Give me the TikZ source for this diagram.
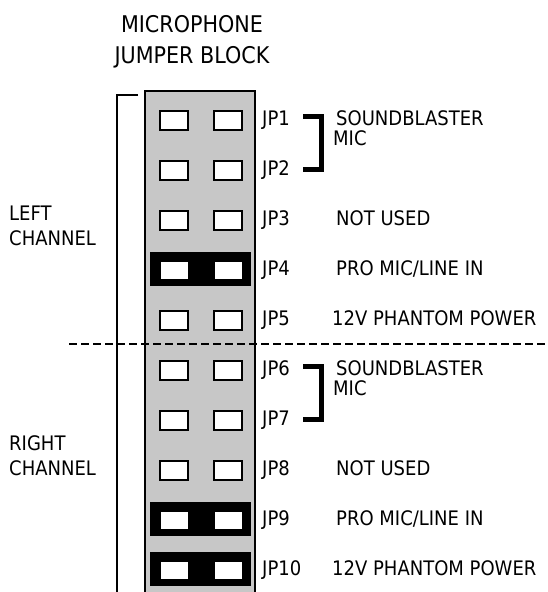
\documentclass[tikz,border=0pt]{standalone}
\usepackage{fontspec}
\setmainfont{DejaVu Sans}[FakeStretch=0.9]
\tikzset{
  lbl/.style={font=\fontsize{20}{22}\selectfont, anchor=base west, inner sep=0pt},
  ttl/.style={font=\fontsize{23}{26}\selectfont, anchor=base, inner sep=0pt},
  pinbox/.style={draw=black, line width=2pt, fill=white, minimum width=28pt, minimum height=19pt, inner sep=0pt},
  shunt/.style={fill=black, minimum width=101pt, minimum height=34pt, inner sep=0pt},
  hole/.style={fill=white, minimum width=27pt, minimum height=17pt, inner sep=0pt},
  bracketline/.style={line width=5pt},
  thinline/.style={line width=1.6pt},
  divider/.style={line width=1.3pt, dash pattern=on 8pt off 4pt}
}
\begin{document}
\begin{tikzpicture}[x=1pt,y=-1pt]
\useasboundingbox (0,0) rectangle (547,592);
% title
\node[ttl] (t1) at (192,32) {MICROPHONE};
\node[ttl] (t2) at (192,63) {JUMPER BLOCK};
% strip
\fill[black!22] (145,91) rectangle (255,600);
\draw[line width=1.5pt] (145,600) -- (145,91) -- (255,91) -- (255,600);
% left bracket line
\coordinate (lt) at (138,95);
\coordinate (lc) at (117,95);
\coordinate (lb) at (117,600);
\draw[thinline] (lt) -- (lc) -- (lb);
% jumpers
\foreach \n in {1,2,3,5,6,7,8}{
  \pgfmathsetmacro{\yy}{120+50*(\n-1)}
  \node[pinbox] (p\n a) at (174,\yy) {};
  \node[pinbox] (p\n b) at (228,\yy) {};
}
\foreach \n in {4,9,10}{
  \pgfmathsetmacro{\yy}{120+50*(\n-1)}
  \node[shunt] (s\n) at (200.5,\yy-1) {};
  \node[hole] (p\n a) at (174.5,\yy) {};
  \node[hole] (p\n b) at (228,\yy) {};
}
% divider
\coordinate (d1) at (69,344);
\coordinate (d2) at (547,344);
\draw[divider] (d1) -- (d2);
% JP labels
\foreach \n in {1,...,10}{
  \pgfmathsetmacro{\yy}{125+50*(\n-1)}
  \node[lbl] (jp\n) at (262,\yy) {JP\n};
}
% descriptions
\node[lbl] (sb1) at (336,125) {SOUNDBLASTER};
\node[lbl] (mic1) at (333,145) {MIC};
\node[lbl] (nu1) at (336,225) {NOT USED};
\node[lbl] (pro1) at (336,275) {PRO MIC/LINE IN};
\node[lbl] (ph1) at (332,325) {12V PHANTOM POWER};
\node[lbl] (sb2) at (336,375) {SOUNDBLASTER};
\node[lbl] (mic2) at (333,395) {MIC};
\node[lbl] (nu2) at (336,475) {NOT USED};
\node[lbl] (pro2) at (336,525) {PRO MIC/LINE IN};
\node[lbl] (ph2) at (332,575) {12V PHANTOM POWER};
% brackets
\coordinate (b1a) at (303,116);
\coordinate (b1b) at (321.5,116);
\coordinate (b1c) at (321.5,169);
\coordinate (b1d) at (303,169);
\draw[bracketline] (b1a) -- (b1b) -- (b1c) -- (b1d);
\coordinate (b2a) at (303,366);
\coordinate (b2b) at (321.5,366);
\coordinate (b2c) at (321.5,419);
\coordinate (b2d) at (303,419);
\draw[bracketline] (b2a) -- (b2b) -- (b2c) -- (b2d);
% channel labels
\node[lbl] (lf1) at (9,220) {LEFT};
\node[lbl] (lf2) at (9,245) {CHANNEL};
\node[lbl] (rt1) at (9,450) {RIGHT};
\node[lbl] (rt2) at (9,475) {CHANNEL};
\end{tikzpicture}
\end{document}
